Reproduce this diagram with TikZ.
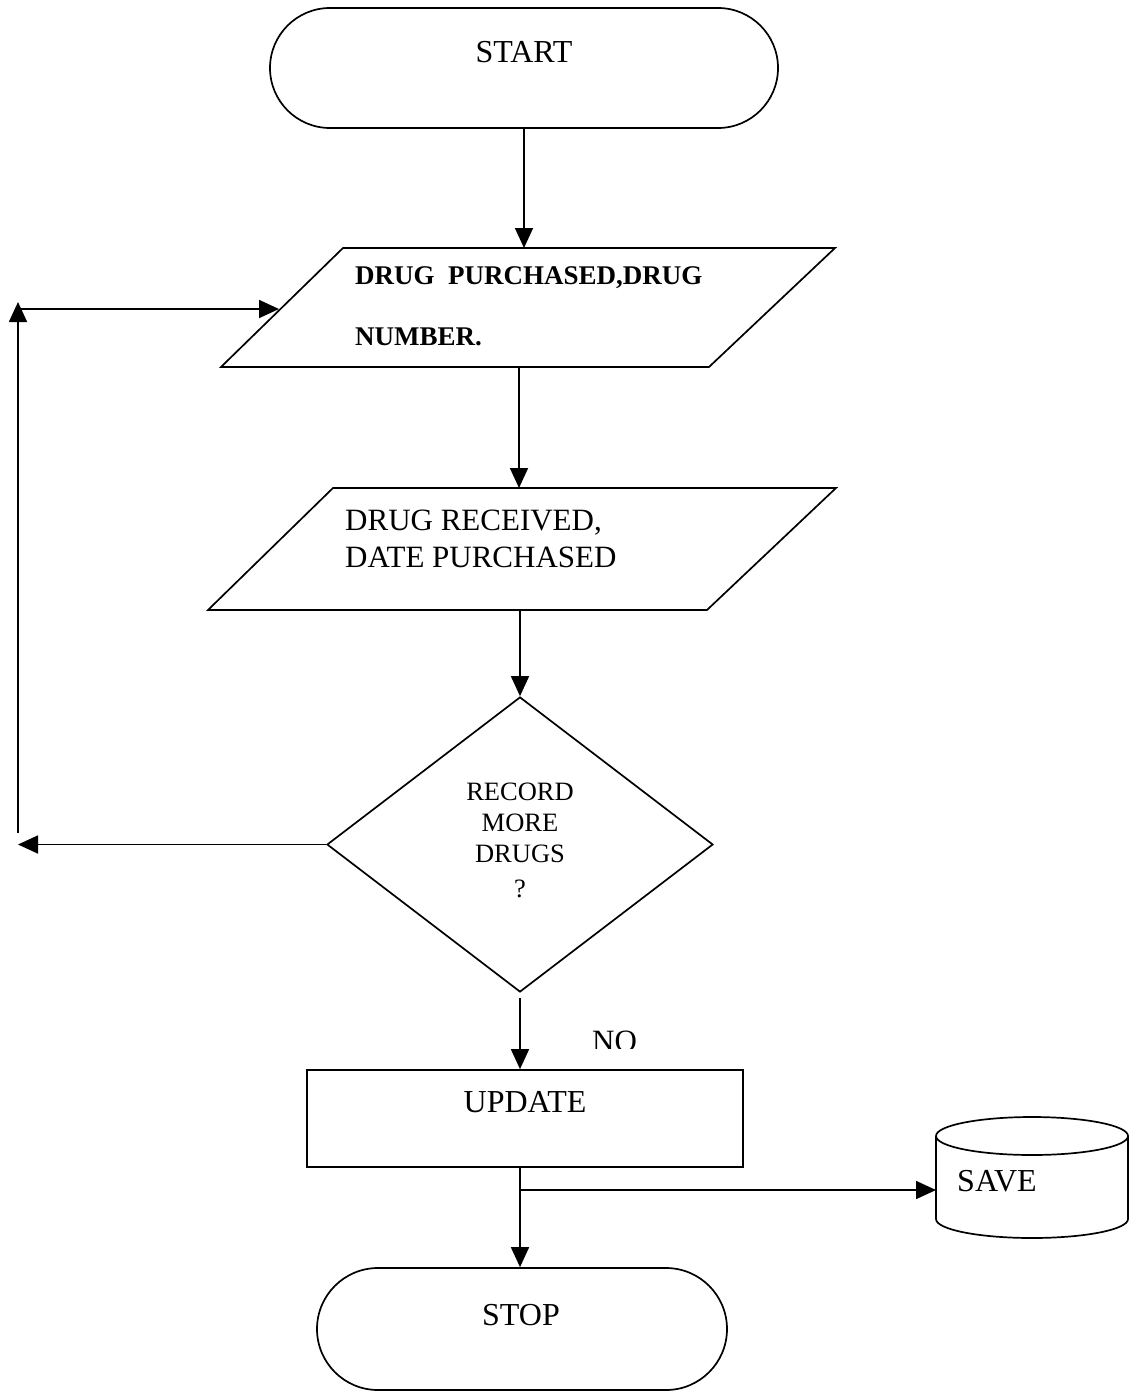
\documentclass[tikz,border=0pt]{standalone}
\usepackage{fontspec}
\setmainfont{Liberation Serif}
\usetikzlibrary{arrows.meta,shapes.geometric,calc}

\tikzset{
  outline/.style={draw, line width=1.7pt},
  arr/.style={line width=1.7pt, -{Triangle[length=20pt,width=18pt]}},
  terminal/.style={outline, rounded corners=60pt, inner sep=0pt},
  procbox/.style={outline, rectangle, inner sep=0pt},
  decision/.style={outline, diamond, inner sep=0pt},
  txt/.style={inner sep=0pt, anchor=base, font=\fontsize{32}{38}\selectfont},
  txtl/.style={inner sep=0pt, anchor=base west, font=\fontsize{31}{37}\selectfont},
  boldl/.style={inner sep=0pt, anchor=base west, font=\fontsize{27}{32}\selectfont\bfseries},
  dtxt/.style={inner sep=0pt, anchor=base, font=\fontsize{26.5}{31}\selectfont},
}

\begin{document}
\begin{tikzpicture}[x=1pt,y=-1pt]
\useasboundingbox (0,0) rectangle (1129,1394);

% terminals, process box and decision
\node[terminal, minimum width=508pt, minimum height=120pt] (start) at (524,68) {};
\node[txt] (starttxt) at (524,63) {START};

\node[decision, minimum width=386pt, minimum height=295pt] (dec) at (520,844.5) {};
\node[dtxt] (d1) at (520,800) {RECORD};
\node[dtxt] (d2) at (520,831) {MORE};
\node[dtxt] (d3) at (520,862) {DRUGS};
\node[dtxt] (d4) at (520,897) {?};

\node[procbox, minimum width=436pt, minimum height=97pt] (update) at (525,1118.5) {};
\node[txt] (updtxt) at (525,1112) {UPDATE};

\node[terminal, minimum width=410pt, minimum height=122pt, rounded corners=61pt] (stop) at (522,1329) {};
\node[txt] (stoptxt) at (521,1325) {STOP};

% input parallelograms
\coordinate (p1tl) at (343,248);
\coordinate (p1tr) at (835,248);
\coordinate (p1br) at (709,367);
\coordinate (p1bl) at (221,367);
\draw[outline] (p1tl) -- (p1tr) -- (p1br) -- (p1bl) -- cycle;
\node[boldl] (p1a) at (355,284) {DRUG\ \ PURCHASED,DRUG};
\node[boldl] (p1b) at (355,345) {NUMBER.};

\coordinate (p2tl) at (333,488);
\coordinate (p2tr) at (836,488);
\coordinate (p2br) at (707,610);
\coordinate (p2bl) at (208,610);
\draw[outline] (p2tl) -- (p2tr) -- (p2br) -- (p2bl) -- cycle;
\node[txtl] (p2a) at (345,530) {DRUG RECEIVED,};
\node[txtl] (p2b) at (345,567) {DATE PURCHASED};

% storage cylinder
\draw[outline] (936,1136) -- (936,1219)
  arc[start angle=180, end angle=360, x radius=96pt, y radius=19pt] -- (1128,1136);
\draw[outline] (1032,1136) ellipse[x radius=96pt, y radius=19pt];
\coordinate (savew) at (936,1190);
\node[txtl, font=\fontsize{32}{38}\selectfont] (savetxt) at (957,1191) {SAVE};

% loop-back route
\coordinate (loopup) at (18,833);
\coordinate (looptop) at (18,302);
\coordinate (loopin) at (18,309);
\coordinate (p1left) at (279,309);

% connectors
\draw[arr] (start.south) -- (start.south |- p1tl);
\draw[arr] (519,367) -- (519,488);
\draw[arr] (dec.north |- p2bl) -- (dec.north);
\draw[arr] (dec.west) -- (dec.west -| loopup);
\draw[arr] (loopup) -- (looptop);
\draw[arr] (loopin) -- (p1left);
\draw[arr] ($(dec.south)+(0,5)$) -- (dec.south |- update.north);
\draw[arr] (update.south -| dec.south) -- (stop.north -| dec.south);
\draw[arr] (dec.south |- savew) -- (savew);

% branch label, cut off at its lower edge
\begin{scope}
  \clip (580,1020) rectangle (660,1048);
  \node[txtl] (notxt) at (592,1051) {NO};
\end{scope}
\end{tikzpicture}
\end{document}
